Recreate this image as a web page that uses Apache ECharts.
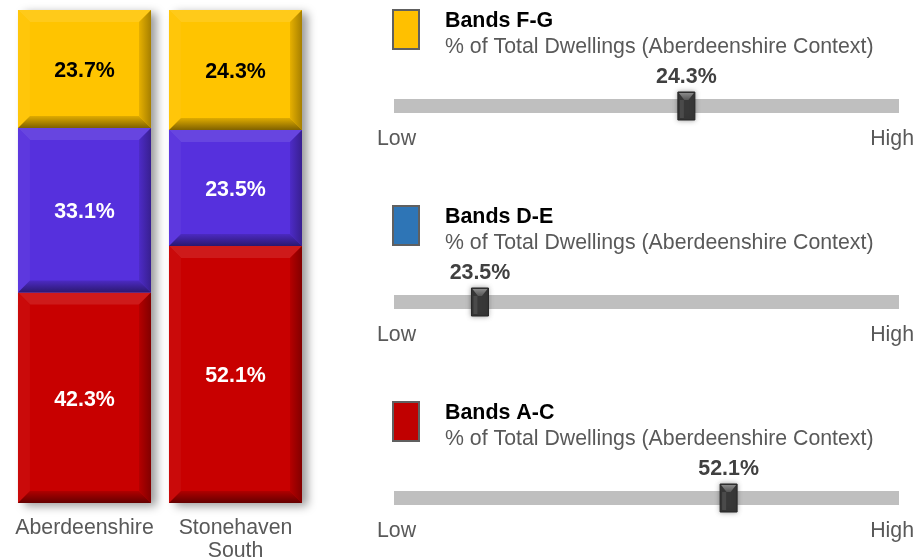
<!DOCTYPE html>
<html>
<head>
<meta charset="utf-8">
<script src="https://cdn.jsdelivr.net/npm/echarts@6/dist/echarts.min.js"></script>
<style>html,body{margin:0;padding:0;background:#fff;}#c{width:919px;height:560px;}</style>
</head>
<body>
<div id="c"></div>
<script>
// ---- data ----
const categories = ['Aberdeenshire', 'Stonehaven\nSouth'];
const bandsAC = [42.3, 52.1];
const bandsDE = [33.1, 23.5];
const bandsFG = [23.7, 24.3];
const segmentNames = ['Bands A-C', 'Bands D-E', 'Bands F-G'];

const indicatorNames = ['Bands F-G', 'Bands D-E', 'Bands A-C'];
const indicatorSubtitle = '% of Total Dwellings (Aberdeenshire Context)';
const indicatorValues = [24.3, 23.5, 52.1];
const indicatorLow = [10, 19.5, 25];     // estimated context range (low end)
const indicatorHigh = [34.7, 43, 65.9];  // estimated context range (high end)

// ---- styles ----
const FONT = '"Liberation Sans", Arial, Helvetica, sans-serif';
const REG = '21.3px ' + FONT;
const BOLD = 'bold 21.4px ' + FONT;
const segColors = ['#C80000', '#5630DD', '#FFC400'];
const segLabelColors = ['#ffffff', '#ffffff', '#000000'];
const legendColors = ['#FFC000', '#2E75B6', '#C00000'];

function shade(hex, f) {
  const n = parseInt(hex.slice(1), 16);
  let r = (n >> 16) & 255, g = (n >> 8) & 255, b = n & 255;
  if (f >= 0) { r += (255 - r) * f; g += (255 - g) * f; b += (255 - b) * f; }
  else { r *= 1 + f; g *= 1 + f; b *= 1 + f; }
  return 'rgb(' + Math.round(r) + ',' + Math.round(g) + ',' + Math.round(b) + ')';
}

// normalised (100% stacked) segments
const segSeries = [bandsAC, bandsDE, bandsFG];
const segData = [[], [], []];
const shadowData = [];
categories.forEach((c, i) => {
  const total = bandsAC[i] + bandsDE[i] + bandsFG[i];
  let acc = 0;
  segSeries.forEach((arr, s) => {
    const start = acc / total * 100;
    acc += arr[i];
    const end = acc / total * 100;
    segData[s].push([i, start, end, arr[i]]);
  });
  shadowData.push([i, 0, 100]);
});

const BAR_RATIO = 0.881;

function barGeom(api) {
  const x = api.value(0);
  const p0 = api.coord([x, api.value(1)]);
  const p1 = api.coord([x, api.value(2)]);
  const w = api.size([1, 0])[0] * BAR_RATIO;
  return { l: p0[0] - w / 2, r: p0[0] + w / 2, t: p1[1], b: p0[1], cx: p0[0], w: w };
}

function makeSegRender(s) {
  const base = segColors[s];
  return function (params, api) {
    const g = barGeom(api);
    const h = g.b - g.t;
    const bv = Math.min(12, h / 4);
    const L = g.l, R = g.r, T = g.t, B = g.b;
    const children = [
      { type: 'rect', shape: { x: L, y: T, width: g.w, height: h }, style: { fill: base } },
      { type: 'polygon', shape: { points: [[L, T], [R, T], [R - bv, T + bv], [L + bv, T + bv]] },
        style: { fill: shade(base, 0.1) } },
      { type: 'polygon', shape: { points: [[L, T], [L + bv, T + bv], [L + bv, B - bv], [L, B]] },
        style: { fill: shade(base, 0.04) } },
      { type: 'polygon', shape: { points: [[R, T], [R, B], [R - bv, B - bv], [R - bv, T + bv]] },
        style: { fill: new echarts.graphic.LinearGradient(0, 0, 1, 0, [
          { offset: 0, color: shade(base, -0.1) }, { offset: 1, color: shade(base, -0.35) }]) } },
      { type: 'polygon', shape: { points: [[L, B], [R, B], [R - bv, B - bv], [L + bv, B - bv]] },
        style: { fill: new echarts.graphic.LinearGradient(0, 0, 0, 1, [
          { offset: 0, color: shade(base, -0.12) }, { offset: 1, color: shade(base, -0.5) }]) } },
      { type: 'text', style: {
          text: api.value(3).toFixed(1) + '%', x: g.cx, y: (T + B) / 2 + 2,
          align: 'center', verticalAlign: 'middle', textAlign: 'center', textVerticalAlign: 'middle',
          font: BOLD, fill: segLabelColors[s] } }
    ];
    return { type: 'group', children: children };
  };
}

function shadowRender(params, api) {
  const g = barGeom(api);
  return { type: 'rect', shape: { x: g.l, y: g.t, width: g.w, height: g.b - g.t },
    style: { fill: '#ffffff', shadowBlur: 9, shadowOffsetX: 6, shadowOffsetY: 3, shadowColor: 'rgba(0,0,0,0.4)' } };
}

// indicator rendering
function makeIndicatorRender(k) {
  return function (params, api) {
    const v = api.value(0);
    const a = api.coord([indicatorLow[k], 0]);
    const b = api.coord([indicatorHigh[k], 0]);
    const m = api.coord([v, 0]);
    const cy = a[1];
    const mw = 17, mh = 28;
    const ml = m[0] - mw / 2, mt = cy - mh / 2;
    return { type: 'group', children: [
      { type: 'rect', shape: { x: a[0], y: cy - 7, width: b[0] - a[0], height: 14 }, style: { fill: '#BFBFBF' } },
      { type: 'rect', shape: { x: ml, y: mt, width: mw, height: mh },
        style: { fill: '#383838', stroke: '#262626', lineWidth: 1, shadowBlur: 5, shadowColor: 'rgba(0,0,0,0.35)' } },
      { type: 'polygon', shape: { points: [[ml + 1, mt + 1], [ml + mw - 1, mt + 1], [m[0] + 2, mt + 8], [m[0] - 2, mt + 8]] },
        style: { fill: new echarts.graphic.LinearGradient(0, 0, 0, 1, [
          { offset: 0, color: '#8a8a8a' }, { offset: 1, color: '#555555' }]) } },
      { type: 'rect', shape: { x: ml + 2, y: mt + 8, width: 4, height: mh - 10 }, style: { fill: '#4a4a4a' } },
      { type: 'text', style: {
          text: v.toFixed(1) + '%', x: m[0], y: cy - 29,
          align: 'center', verticalAlign: 'middle', textAlign: 'center', textVerticalAlign: 'middle',
          font: BOLD, fill: '#404040' } }
    ] };
  };
}

const GROUP_STEP = 196;
const grids = [{ left: 9, top: 10, width: 302, height: 493, outerBoundsMode: 'none', containLabel: false }];
const xAxes = [{
  type: 'category', data: categories, gridIndex: 0,
  axisLine: { show: false }, axisTick: { show: false },
  axisLabel: { color: '#595959', fontSize: 21.3, fontFamily: FONT, lineHeight: 23, margin: 14, interval: 0 }
}];
const yAxes = [{ type: 'value', min: 0, max: 100, show: false, gridIndex: 0, splitLine: { show: false } }];
const series = [
  { type: 'custom', xAxisIndex: 0, yAxisIndex: 0, renderItem: shadowRender, data: shadowData, z: 1, silent: true }
];
segData.forEach((d, s) => {
  series.push({ type: 'custom', name: segmentNames[s], xAxisIndex: 0, yAxisIndex: 0,
    renderItem: makeSegRender(s), data: d, z: 2 });
});

const graphics = [];
indicatorNames.forEach((name, k) => {
  const off = k * GROUP_STEP;
  grids.push({ left: 394, width: 505, top: 99 + off, height: 14, outerBoundsMode: 'none', containLabel: false });
  xAxes.push({ type: 'value', gridIndex: k + 1, min: indicatorLow[k], max: indicatorHigh[k], show: false, splitLine: { show: false } });
  yAxes.push({ type: 'category', gridIndex: k + 1, data: [name], show: false });
  series.push({ type: 'custom', name: name, xAxisIndex: k + 1, yAxisIndex: k + 1,
    renderItem: makeIndicatorRender(k), data: [[indicatorValues[k], 0]], z: 3 });

  graphics.push(
    { type: 'rect', shape: { x: 393, y: 10 + off, width: 26, height: 39 },
      style: { fill: legendColors[k], stroke: '#606060', lineWidth: 2 } },
    { type: 'text', x: 445, y: 21 + off, style: { text: name, font: BOLD, fill: '#000000',
      textAlign: 'left', textVerticalAlign: 'middle', align: 'left', verticalAlign: 'middle' } },
    { type: 'text', x: 445, y: 47 + off, style: { text: indicatorSubtitle, font: REG, fill: '#595959',
      textAlign: 'left', textVerticalAlign: 'middle', align: 'left', verticalAlign: 'middle' } },
    { type: 'text', x: 377, y: 139 + off, style: { text: 'Low', font: REG, fill: '#595959',
      textAlign: 'left', textVerticalAlign: 'middle', align: 'left', verticalAlign: 'middle' } },
    { type: 'text', x: 914, y: 139 + off, style: { text: 'High', font: REG, fill: '#595959',
      textAlign: 'right', textVerticalAlign: 'middle', align: 'right', verticalAlign: 'middle' } }
  );
});

const chart = echarts.init(document.getElementById('c'));
chart.setOption({
  animation: false,
  backgroundColor: '#ffffff',
  grid: grids,
  xAxis: xAxes,
  yAxis: yAxes,
  series: series,
  graphic: graphics
});
</script>
</body>
</html>
